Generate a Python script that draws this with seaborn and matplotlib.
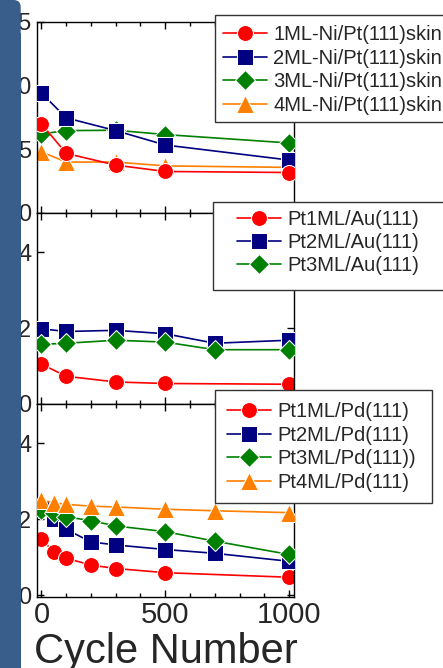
import matplotlib
matplotlib.use("Agg")
import seaborn as sns
from matplotlib import pyplot as plt
from matplotlib.patches import Rectangle, FancyBboxPatch
from matplotlib.ticker import MultipleLocator, FixedLocator
from matplotlib.transforms import IdentityTransform

# ---------------------------------------------------------------
# data
# ---------------------------------------------------------------
# top panel: Ni/Pt(111) skin
cyc_top = [0, 100, 300, 500, 1000]
ni_1ml = [7.0, 4.68, 3.76, 3.26, 3.18]
ni_2ml = [9.42, 7.47, 6.47, 5.34, 4.16]
ni_3ml = [6.21, 6.47, 6.5, 6.16, 5.5]
ni_4ml = [4.8, 4.0, 4.0, 3.7, 3.58]

# middle panel: Pt/Au(111)
cyc_au_1 = [0, 100, 300, 500, 1000]
cyc_au = [0, 100, 300, 500, 700, 1000]
au_1ml = [1.05, 0.73, 0.58, 0.54, 0.52]
au_2ml = [1.98, 1.91, 1.94, 1.85, 1.60, 1.68]
au_3ml = [1.57, 1.60, 1.68, 1.63, 1.43, 1.43]

# bottom panel: Pt/Pd(111)
cyc_pd_1 = [0, 50, 100, 200, 300, 500, 1000]
cyc_pd = [0, 50, 100, 200, 300, 500, 700, 1000]
pd_1ml = [1.47, 1.14, 0.97, 0.79, 0.70, 0.59, 0.47]
pd_2ml = [2.3, 1.99, 1.73, 1.40, 1.32, 1.20, 1.10, 0.89]
pd_3ml = [2.24, 2.16, 2.06, 1.96, 1.82, 1.67, 1.42, 1.07]
pd_4ml = [2.50, 2.43, 2.39, 2.34, 2.32, 2.26, 2.22, 2.17]

labels_top = ["1ML-Ni/Pt(111)skin", "2ML-Ni/Pt(111)skin", "3ML-Ni/Pt(111)skin", "4ML-Ni/Pt(111)skin"]
labels_au = ["Pt1ML/Au(111)", "Pt2ML/Au(111)", "Pt3ML/Au(111)"]
labels_pd = ["Pt1ML/Pd(111)", "Pt2ML/Pd(111)", "Pt3ML/Pd(111))", "Pt4ML/Pd(111)"]

# ---------------------------------------------------------------
# style
# ---------------------------------------------------------------
RED, BLUE, GREEN, ORANGE = "#FF0000", "#000080", "#008000", "#FF8000"
MARK = {RED: ("o", 11.5), BLUE: ("s", 11), GREEN: ("D", 10), ORANGE: ("^", 13)}

W, H = 443, 668
sns.set_style("ticks")
plt.rcParams["font.family"] = ["Liberation Sans", "DejaVu Sans"]

fig = plt.figure(figsize=(W / 100, H / 100), dpi=100)


def px_box(left, top, right, bottom):
    return [left / W, 1 - bottom / H, (right - left) / W, (bottom - top) / H]


ax1 = fig.add_axes(px_box(37, 22, 294, 213))
ax2 = fig.add_axes(px_box(37, 213, 294, 404))
ax3 = fig.add_axes(px_box(37, 404, 294, 597))

panels = [
    (ax1, [(cyc_top, ni_1ml, RED, 5), (cyc_top, ni_2ml, BLUE, 4),
           (cyc_top, ni_3ml, GREEN, 3), (cyc_top, ni_4ml, ORANGE, 2)], labels_top),
    (ax2, [(cyc_au_1, au_1ml, RED, 2), (cyc_au, au_2ml, BLUE, 3),
           (cyc_au, au_3ml, GREEN, 4)], labels_au),
    (ax3, [(cyc_pd_1, pd_1ml, RED, 2), (cyc_pd, pd_2ml, BLUE, 3),
           (cyc_pd, pd_3ml, GREEN, 4), (cyc_pd, pd_4ml, ORANGE, 5)], labels_pd),
]

for ax, series, labels in panels:
    for (xs, ys, col, z), lab in zip(series, labels):
        m, ms = MARK[col]
        sns.lineplot(x=xs, y=ys, ax=ax, color=col, marker=m, markersize=ms,
                     linewidth=1.2, label=lab, legend=False, zorder=z)
    ax.set_xlim(-18, 1020)
    ax.xaxis.set_major_locator(FixedLocator([0, 500, 1000]))
    ax.xaxis.set_minor_locator(MultipleLocator(100))
    ax.tick_params(which="both", direction="in", top=True, right=True, width=1, color="black")
    ax.tick_params(which="major", length=5)
    ax.tick_params(which="minor", length=3)
    ax.tick_params(axis="y", labelsize=17, pad=4)
    ax.tick_params(axis="x", labelsize=21, pad=3)
    for sp in ax.spines.values():
        sp.set_linewidth(1)
        sp.set_color("black")
    ax.set_xlabel("")
    ax.set_ylabel("")

ax1.set_ylim(0, 15)
ax1.set_yticks([0, 5, 10, 15])
ax2.set_ylim(0, 5.03)
ax2.set_yticks([0, 2, 4])
ax3.set_ylim(-0.05, 5.03)
ax3.set_yticks([0, 2, 4])
ax1.tick_params(axis="x", labelbottom=False)
ax2.tick_params(axis="x", labelbottom=False)
ax3.set_xlabel("Cycle Number", fontsize=30, labelpad=2)

# ---------------------------------------------------------------
# legends: frame drawn as a figure patch, entries as a figure legend
# ---------------------------------------------------------------
frames = [(215, 15, 470, 122), (213, 202, 470, 290), (215, 390, 432, 503)]
anchors = [(223, 70), (237, 242.5), (227, 447)]
for (ax, series, labels), (l, t, r, b), (hx, hy) in zip(panels, frames, anchors):
    fig.add_artist(Rectangle((l, H - b), r - l, b - t, transform=IdentityTransform(),
                             facecolor="white", edgecolor="#333333", linewidth=1, zorder=4))
    handles, labs = ax.get_legend_handles_labels()
    fig.legend(handles, labs, loc="center left", bbox_to_anchor=(hx / W, 1 - hy / H),
               frameon=False, borderpad=0, borderaxespad=0, handlelength=2.2,
               handletextpad=0.3, labelspacing=0.22, fontsize=14.5)

# blue strip on the left edge of the cropped picture (rounded top corner)
STRIP = "#3A5E8C"
fig.add_artist(Rectangle((0, 0), 20.7 / W, 0.95, transform=fig.transFigure,
                         facecolor=STRIP, edgecolor="none", zorder=10))
fig.add_artist(FancyBboxPatch((-30, H - 60), 50.7, 60, transform=IdentityTransform(),
                              boxstyle="round,pad=0,rounding_size=7",
                              facecolor=STRIP, edgecolor="none", zorder=10))

fig.savefig("out.png", dpi=100)
plt.close()
